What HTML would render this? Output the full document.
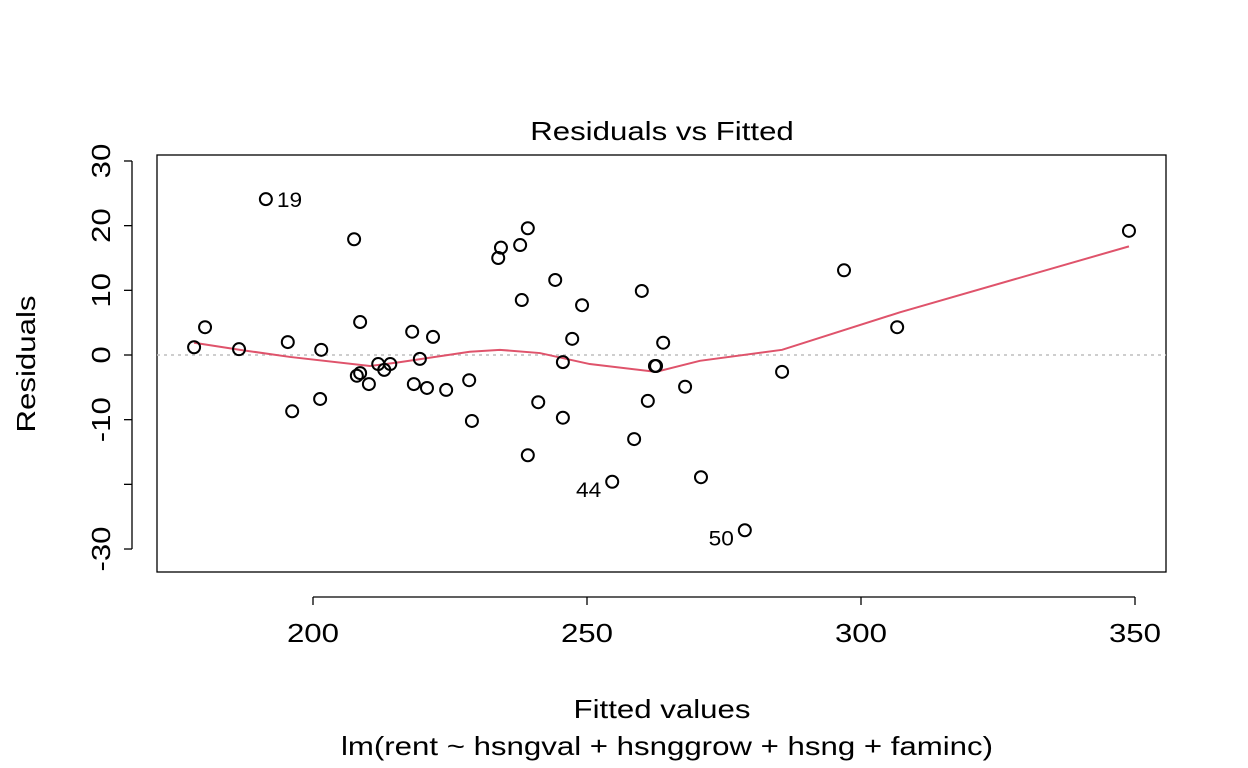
<!DOCTYPE html>
<html><head><meta charset="utf-8"><style>body{margin:0;background:#fff}svg{display:block;font-family:"Liberation Sans",Arial,sans-serif}</style></head>
<body>
<svg id="chart" width="1248" height="768" viewBox="0 0 1248 768">
<rect width="1248" height="768" fill="#fff"/>
<g id="g"></g>
</svg>
<script>
const fittedValues=[178.3,180.3,186.5,191.4,195.4,196.2,201.5,201.3,207.5,208.6,208.0,208.6,210.2,211.9,213.0,214.1,218.1,218.4,219.5,220.8,221.9,224.3,228.5,229.0,233.8,234.3,237.8,239.2,238.1,241.1,239.2,244.2,245.6,245.6,247.3,249.1,254.6,258.6,260.0,261.1,262.4,262.6,263.9,267.9,270.8,278.8,285.6,296.9,306.6,348.9];
const residuals=[1.2,4.3,0.9,24.1,2.0,-8.7,0.8,-6.8,17.9,5.1,-3.2,-2.8,-4.5,-1.4,-2.3,-1.4,3.6,-4.5,-0.6,-5.1,2.8,-5.4,-3.9,-10.2,15.0,16.6,17.0,19.6,8.5,-7.3,-15.5,11.6,-1.1,-9.7,2.5,7.7,-19.6,-13.0,9.9,-7.1,-1.7,-1.7,1.9,-4.9,-18.9,-27.1,-2.6,13.1,4.3,19.2];
const smoothX=[178.3,186.7,195.8,210.4,215.9,228.6,234.1,241.4,250.5,262.6,270.6,285.6,307.1,348.9];
const smoothY=[1.9,0.8,-0.3,-1.7,-1.1,0.5,0.8,0.3,-1.4,-2.6,-0.9,0.8,6.6,16.8];
const xTicks=[200,250,300,350];
const yTicks=[-30,-20,-10,0,10,20,30];
const yTickLabels=["-30","","-10","0","10","20","30"];
const labelled=[{i:3,t:"19",side:"right"},{i:36,t:"44",side:"left"},{i:45,t:"50",side:"left"}];

const X=v=>313+(v-200)*5.48;
const Y=v=>355-v*6.467;
const NS="http://www.w3.org/2000/svg";
const g=document.getElementById('g');
function mk(tag,attrs,parent){const e=document.createElementNS(NS,tag);for(const k in attrs)e.setAttribute(k,attrs[k]);(parent||g).appendChild(e);return e;}
function widen(t,f){const w=t.getComputedTextLength();t.setAttribute('textLength',w*f);t.setAttribute('lengthAdjust','spacingAndGlyphs');}

let e=mk('rect',{x:157,y:155,width:1009,height:417,fill:'none',stroke:'#000','stroke-width':1.3});


e=mk('line',{x1:157,x2:1166,y1:Y(0),y2:Y(0),stroke:'#bebebe','stroke-width':1.5,'stroke-dasharray':'3,4'});



e=mk('line',{x1:X(xTicks[0]),x2:X(xTicks[xTicks.length-1]),y1:597,y2:597,stroke:'#000','stroke-width':1.3});


xTicks.forEach(t=>{
  let l=mk('line',{x1:X(t),x2:X(t),y1:597,y2:605,stroke:'#000','stroke-width':1.3});
  
  
  let tx=mk('text',{x:X(t),y:642,'font-size':26,'text-anchor':'middle'});
  tx.textContent=t;
  
  
  widen(tx,1.2);
});
e=mk('line',{x1:132,x2:132,y1:Y(yTicks[0]),y2:Y(yTicks[yTicks.length-1]),stroke:'#000','stroke-width':1.3});


yTicks.forEach((t,i)=>{
  let l=mk('line',{x1:124,x2:132,y1:Y(t),y2:Y(t),stroke:'#000','stroke-width':1.3});
  
  
  if(yTickLabels[i]){
    let tx=mk('text',{x:0,y:0,'font-size':26,'text-anchor':'middle',transform:`translate(110,${Y(t)}) rotate(-90)`});
    tx.textContent=yTickLabels[i];
    
    
    widen(tx,1.2);
  }
});
e=mk('polyline',{points:smoothX.map((x,i)=>X(x)+','+Y(smoothY[i])).join(' '),fill:'none',stroke:'#df536b','stroke-width':2});


fittedValues.forEach((x,i)=>{
  let c=mk('circle',{cx:X(x),cy:Y(residuals[i]),r:6,fill:'none',stroke:'#000','stroke-width':2});
  
  
});
labelled.forEach(o=>{
  const px=X(fittedValues[o.i]),py=Y(residuals[o.i]);
  let tx=mk('text',{x:o.side==='right'?px+11:px-11,y:py+(o.side==='right'?8:15),'font-size':21,'text-anchor':o.side==='right'?'start':'end'});
  tx.textContent=o.t;
  
  
  widen(tx,1.08);
});
const titles=[['Residuals vs Fitted',662,140,'chart-title'],['Fitted values',662,718,'x-axis-title'],['lm(rent ~ hsngval + hsnggrow + hsng + faminc)',667,755,'model-subtitle']];
titles.forEach(t=>{
  let tx=mk('text',{x:t[1],y:t[2],'font-size':26,'text-anchor':'middle'});
  tx.textContent=t[0];
  
  
  widen(tx,1.2);
});
e=mk('text',{x:0,y:0,'font-size':26,'text-anchor':'middle',transform:'translate(35,364) rotate(-90)'});
e.textContent='Residuals';


widen(e,1.2);
</script>
</body></html>
